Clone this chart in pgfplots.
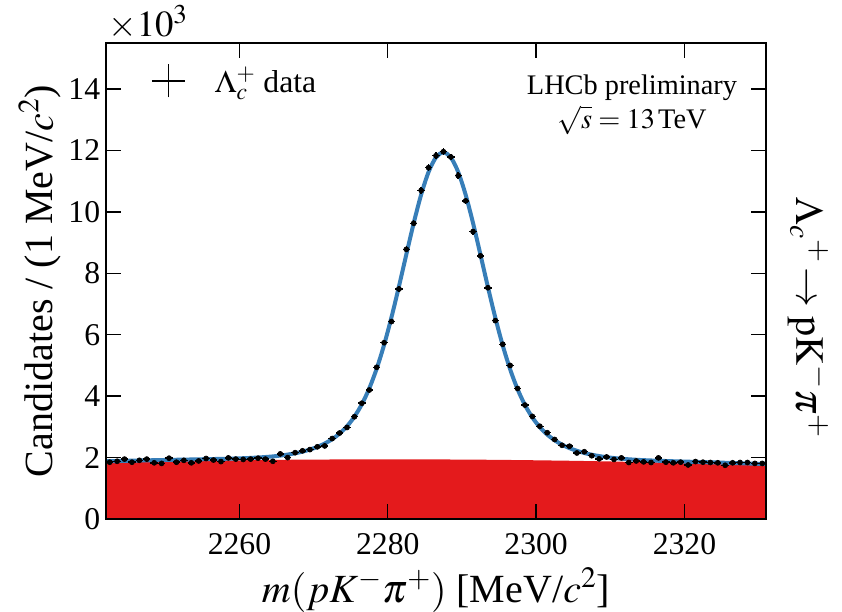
\documentclass[border=0pt]{standalone}
\usepackage{mathptmx}
\usepackage{fontspec}
\setmainfont{Liberation Serif}
\usepackage{pgfplots}
\usepackage{pgfplotstable}
\pgfplotsset{compat=1.18}
\definecolor{fitblue}{RGB}{55,126,184}
\definecolor{bkgred}{RGB}{228,26,28}

% binned data, thousands of candidates per 1 MeV
\pgfplotstableread{
x y ey
2242.5 1.85 0.044
2243.5 1.88 0.044
2244.5 1.95 0.044
2245.5 1.85 0.044
2246.5 1.91 0.044
2247.5 1.95 0.044
2248.5 1.83 0.044
2249.5 1.81 0.044
2250.5 1.98 0.044
2251.5 1.85 0.044
2252.5 1.91 0.044
2253.5 1.83 0.044
2254.5 1.89 0.044
2255.5 1.97 0.044
2256.5 1.92 0.044
2257.5 1.87 0.044
2258.5 1.99 0.044
2259.5 1.95 0.044
2260.5 1.94 0.044
2261.5 1.95 0.044
2262.5 1.98 0.044
2263.5 1.95 0.044
2264.5 1.88 0.044
2265.5 2.12 0.047
2266.5 2.00 0.045
2267.5 2.16 0.047
2268.5 2.22 0.047
2269.5 2.26 0.047
2270.5 2.35 0.048
2271.5 2.38 0.049
2272.5 2.62 0.051
2273.5 2.80 0.053
2274.5 2.98 0.055
2275.5 3.33 0.058
2276.5 3.77 0.061
2277.5 4.20 0.065
2278.5 4.94 0.070
2279.5 5.74 0.076
2280.5 6.43 0.080
2281.5 7.49 0.087
2282.5 8.78 0.094
2283.5 9.63 0.098
2284.5 10.70 0.103
2285.5 11.44 0.107
2286.5 11.83 0.109
2287.5 11.96 0.109
2288.5 11.79 0.109
2289.5 11.18 0.106
2290.5 10.36 0.102
2291.5 9.36 0.097
2292.5 8.57 0.093
2293.5 7.53 0.087
2294.5 6.46 0.080
2295.5 5.69 0.075
2296.5 5.00 0.071
2297.5 4.25 0.065
2298.5 3.71 0.061
2299.5 3.34 0.058
2300.5 3.02 0.055
2301.5 2.81 0.053
2302.5 2.59 0.051
2303.5 2.40 0.049
2304.5 2.37 0.049
2305.5 2.15 0.046
2306.5 2.19 0.047
2307.5 2.06 0.045
2308.5 1.96 0.044
2309.5 2.02 0.045
2310.5 1.94 0.044
2311.5 1.99 0.044
2312.5 1.84 0.043
2313.5 1.89 0.043
2314.5 1.86 0.043
2315.5 1.84 0.043
2316.5 1.99 0.044
2317.5 1.85 0.043
2318.5 1.83 0.043
2319.5 1.85 0.043
2320.5 1.76 0.042
2321.5 1.87 0.043
2322.5 1.85 0.043
2323.5 1.84 0.043
2324.5 1.83 0.043
2325.5 1.75 0.042
2326.5 1.83 0.043
2327.5 1.84 0.043
2328.5 1.84 0.043
2329.5 1.81 0.043
2330.5 1.81 0.043
}\datatable

\newcommand\tickfs{\rmfamily\fontsize{19}{22}\selectfont}
\newcommand\labfs{\rmfamily\fontsize{24}{28}\selectfont}

\begin{document}
\begin{tikzpicture}
\path[use as bounding box] (-63.6pt,-55.2pt) rectangle (441.6pt,311.4pt);
\begin{axis}[
  at={(0,0)}, anchor=south west,
  width=396pt, height=285.6pt, scale only axis,
  xmin=2242, xmax=2331, ymin=0, ymax=15.5,
  xtick={2260,2280,2300,2320}, xticklabels={2260,2280,2300,2320},
  ytick={0,2,4,6,8,10,12,14}, yticklabels={0,2,4,6,8,10,12,14},
  minor tick num=0,
  tick align=inside, major tick length=9pt,
  tick style={line width=0.8pt, black},
  axis line style={line width=1pt},
  axis on top,
  tick label style={font=\tickfs},
  xticklabel style={yshift=-5pt},
  xlabel={$m(pK^{-}\pi^{+})$ [MeV/$c^{2}$]},
  ylabel={Candidates / (1 MeV/$c^{2}$)},
  label style={font=\labfs},
  xlabel style={at={(axis description cs:0.5,-0.149)}, anchor=center},
  ylabel style={at={(axis description cs:-0.1,0.5)}, anchor=center},
  clip=false,
  legend style={at={(axis description cs:0.06,0.965)}, anchor=north west,
    draw=none, fill=none, font=\tickfs},
  legend cell align=left,
]
% background component
\addplot[fill=bkgred, draw=none, forget plot] coordinates {
(2242,1.830) (2245,1.847) (2250,1.873) (2255,1.894) (2260,1.912) (2265,1.926)
(2270,1.935) (2275,1.941) (2280,1.943) (2285,1.941) (2290,1.936) (2295,1.926)
(2300,1.912) (2305,1.895) (2310,1.873) (2315,1.848) (2320,1.818) (2325,1.785)
(2330,1.748) (2331,1.740)} \closedcycle;
% total fit
\addplot[fitblue, line width=2.4pt, smooth, forget plot] coordinates {
(2242,1.880) (2247.5,1.910) (2252.5,1.934) (2257.5,1.958) (2260.5,1.979)
(2261.5,1.989) (2262.5,2.002) (2263.5,2.018) (2264.5,2.038) (2265.5,2.065)
(2266.5,2.098) (2267.5,2.140) (2268.5,2.194) (2269.5,2.262) (2270.5,2.347)
(2271.5,2.458) (2272.5,2.599) (2273.5,2.782) (2274.5,3.020) (2275.5,3.333)
(2276.5,3.736) (2277.5,4.252) (2278.5,4.894) (2279.5,5.670) (2280.5,6.570)
(2281.5,7.569) (2282.5,8.615) (2283.5,9.640) (2284.5,10.564) (2285.5,11.300)
(2286.5,11.775) (2287.5,11.939) (2288.5,11.773) (2289.5,11.296) (2290.5,10.557)
(2291.5,9.631) (2292.5,8.603) (2293.5,7.555) (2294.5,6.554) (2295.5,5.652)
(2296.5,4.873) (2297.5,4.228) (2298.5,3.711) (2299.5,3.305) (2300.5,2.990)
(2301.5,2.749) (2302.5,2.564) (2303.5,2.420) (2304.5,2.307) (2305.5,2.220)
(2306.5,2.150) (2307.5,2.093) (2308.5,2.049) (2309.5,2.013) (2310.5,1.985)
(2311.5,1.962) (2312.5,1.944) (2313.5,1.929) (2314.5,1.916) (2317.5,1.888)
(2322.5,1.852) (2327.5,1.817) (2331,1.790)};
% data
\addplot[only marks, black, mark=*, mark size=1.5pt, forget plot,
  error bars/.cd, x dir=both, x fixed=0.5, y dir=both, y explicit,
  error bar style={line width=0.9pt, black}, error mark=none]
  table[x=x, y=y, y error=ey] {\datatable};
\addlegendimage{legend image code/.code={
  \draw[black, line width=1.1pt] (0cm,0cm) -- (0.7cm,0cm) (0.35cm,-0.35cm) -- (0.35cm,0.35cm);
  \path (1.25cm,0cm);}}
\addlegendentry{$\Lambda_{c}^{+}$ data}
\node[font=\rmfamily\fontsize{22}{26}\selectfont, anchor=base west, inner sep=0pt] at (axis description cs:0.003,1.014) {$\times10^{3}$};
\node[font=\rmfamily\fontsize{17}{20}\selectfont, anchor=north, align=center] at (axis description cs:0.797,0.945)
  {LHCb preliminary\\$\sqrt{s}=13\,$TeV};
\node[font=\rmfamily\fontsize{24}{28}\selectfont, rotate=-90, anchor=center] at (axis description cs:1.064,0.422)
  {$\Lambda_{c}{}^{+}\!\rightarrow\mathrm{pK}^{-}\pi^{+}$};
\end{axis}
\end{tikzpicture}
\end{document}
